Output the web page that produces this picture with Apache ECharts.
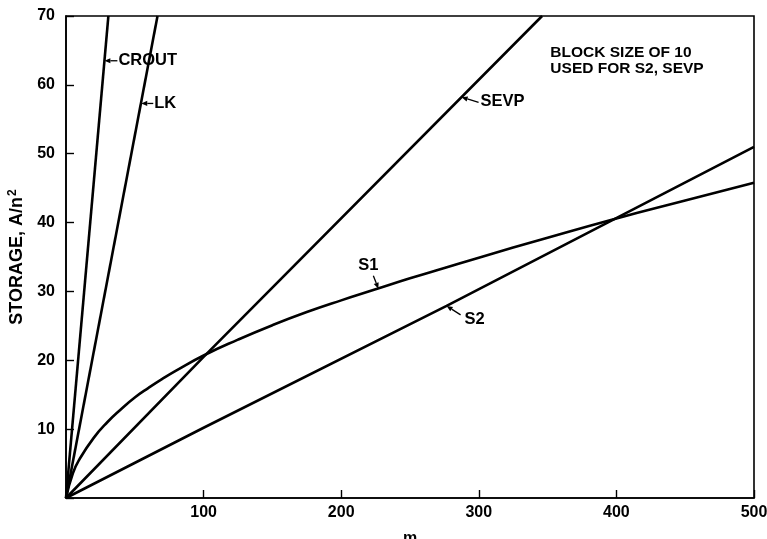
<!DOCTYPE html>
<html>
<head>
<meta charset="utf-8">
<script src="https://cdn.jsdelivr.net/npm/echarts@6/dist/echarts.min.js"></script>
<style>
html,body{margin:0;padding:0;background:#fff;}
#chart{width:767px;height:539px;}
</style>
</head>
<body>
<div id="chart"></div>
<script>
// ---- data ----
var xTicks = [0, 100, 200, 300, 400, 500];
var yTicks = [0, 10, 20, 30, 40, 50, 60, 70];
var croutM = [0, 30.8];
var croutV = [0, 70];
var lkM = [0, 66.5];
var lkV = [0, 70];
var sevpM = [0, 100, 346];
var sevpV = [0, 20.5, 70];
var s1M = [0, 5, 10, 20, 30, 40, 50, 60, 70, 80, 100, 125, 150, 175, 200, 225, 250, 275, 300, 350, 400, 450, 500];
var s1V = [0, 3.6, 5.7, 8.7, 11.0, 12.9, 14.6, 16.0, 17.3, 18.5, 20.7, 23.0, 25.1, 27.0, 28.7, 30.3, 31.9, 33.4, 34.9, 37.8, 40.6, 43.2, 45.8];
var s2M = [0, 100, 276.6, 500];
var s2V = [0, 10.2, 27.9, 51];

var labelNames = ['CROUT', 'LK', 'SEVP', 'S1', 'S2'];
var labelTipM = [27.9, 54.7, 287.5, 227, 276.6];
var labelTipV = [63.5, 57.3, 58.2, 30.4, 27.9];
var noteLines = ['BLOCK SIZE OF 10', 'USED FOR S2, SEVP'];

function pairs(xs, ys) { return xs.map(function (x, i) { return [x, ys[i]]; }); }

var FONT = '"Liberation Sans", Arial, Helvetica, sans-serif';
var chart = echarts.init(document.getElementById('chart'), null, {renderer: 'canvas'});

function lineSeries(name, xs, ys, smooth) {
  return {
    name: name, type: 'line', data: pairs(xs, ys), showSymbol: false, symbol: 'none',
    smooth: smooth ? 0.5 : false, clip: true, silent: true,
    lineStyle: {color: '#000', width: 2.6}
  };
}

chart.setOption({
  animation: false,
  backgroundColor: '#fff',
  grid: {left: 66, right: 13, top: 16, bottom: 41, containLabel: false, outerBoundsMode: 'none',
    show: true, borderColor: '#000', borderWidth: 1.6, backgroundColor: 'transparent'},
  xAxis: {
    type: 'value', min: xTicks[0], max: xTicks[xTicks.length - 1], interval: 100,
    name: 'm', nameLocation: 'middle', nameGap: 33,
    nameTextStyle: {fontFamily: FONT, fontWeight: 'bold', fontSize: 16, color: '#000'},
    axisLine: {show: true, lineStyle: {color: '#000', width: 1.6}},
    axisTick: {show: true, inside: true, length: 8, lineStyle: {color: '#000', width: 1.4}},
    axisLabel: {fontFamily: FONT, fontWeight: 'bold', fontSize: 16, color: '#000', margin: 7,
      formatter: function (v) { return v === 0 ? '' : String(v); }},
    splitLine: {show: false}
  },
  yAxis: {
    type: 'value', min: yTicks[0], max: yTicks[yTicks.length - 1], interval: 10,
    name: 'STORAGE, A/n{sup|2}', nameLocation: 'middle', nameGap: 33, nameRotate: 90,
    nameTextStyle: {fontFamily: FONT, fontWeight: 'bold', fontSize: 18, color: '#000',
      rich: {sup: {fontFamily: FONT, fontWeight: 'bold', fontSize: 12, verticalAlign: 'top', padding: [0, 0, 9, 1], color: '#000'}}},
    axisLine: {show: true, lineStyle: {color: '#000', width: 1.6}},
    axisTick: {show: true, inside: true, length: 8, lineStyle: {color: '#000', width: 1.4}},
    axisLabel: {fontFamily: FONT, fontWeight: 'bold', fontSize: 16, color: '#000', margin: 11,
      formatter: function (v) { return v === 0 ? '' : String(v); }},
    splitLine: {show: false}
  },
  series: [
    lineSeries('CROUT', croutM, croutV, false),
    lineSeries('LK', lkM, lkV, false),
    lineSeries('SEVP', sevpM, sevpV, false),
    lineSeries('S1', s1M, s1V, true),
    lineSeries('S2', s2M, s2V, false)
  ]
});

// ---- annotations: text + arrow pointing at the curve (offsets in px from tip) ----
var annStyle = {
  CROUT: {dx: 14, dy: 0, ax: 13, ay: 0, align: 'left'},
  LK:    {dx: 13, dy: 0, ax: 12, ay: 0, align: 'left'},
  SEVP:  {dx: 19, dy: 4, ax: 17, ay: 5, align: 'left'},
  S1:    {dx: -10, dy: -23, ax: -5, ay: -13, align: 'center'},
  S2:    {dx: 28, dy: 14, ax: 14, ay: 9, align: 'center'}
};
var gfx = [];
labelNames.forEach(function (nm, i) {
  var tip = chart.convertToPixel({gridIndex: 0}, [labelTipM[i], labelTipV[i]]);
  var st = annStyle[nm];
  var sx = tip[0] + st.ax, sy = tip[1] + st.ay;
  var ang = Math.atan2(tip[1] - sy, tip[0] - sx);
  var hl = 6, hw = 2.6;
  var bx = tip[0] - hl * Math.cos(ang), by = tip[1] - hl * Math.sin(ang);
  var px = -Math.sin(ang) * hw, py = Math.cos(ang) * hw;
  gfx.push({type: 'line', shape: {x1: sx, y1: sy, x2: bx, y2: by}, style: {stroke: '#000', lineWidth: 1.3}, silent: true, z: 10});
  gfx.push({type: 'polygon', shape: {points: [[tip[0], tip[1]], [bx + px, by + py], [bx - px, by - py]]}, style: {fill: '#000'}, silent: true, z: 10});
  gfx.push({type: 'text', x: tip[0] + st.dx, y: tip[1] + st.dy, silent: true, z: 10,
    style: {text: nm, fill: '#000', font: 'bold 16.5px ' + FONT, textAlign: st.align, textVerticalAlign: 'middle'}});
});
var noteAnchor = chart.convertToPixel({gridIndex: 0}, [352, 65.9]);
gfx.push({type: 'text', x: noteAnchor[0], y: noteAnchor[1], silent: true, z: 10,
  style: {text: noteLines.join('\n'), fill: '#000', font: 'bold 15.5px ' + FONT, lineHeight: 16, textAlign: 'left', textVerticalAlign: 'top'}});
chart.setOption({graphic: gfx});
</script>
</body>
</html>
